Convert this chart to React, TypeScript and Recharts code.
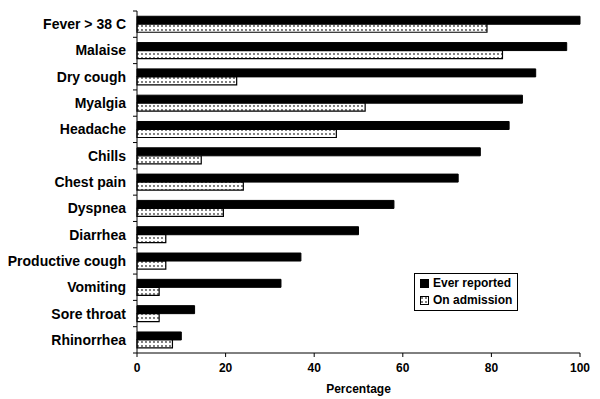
import React from 'react';
import { BarChart, Bar, XAxis, YAxis, Legend } from 'recharts';

// symptom categories, top to bottom
const symptoms = [
  'Fever > 38 C',
  'Malaise',
  'Dry cough',
  'Myalgia',
  'Headache',
  'Chills',
  'Chest pain',
  'Dyspnea',
  'Diarrhea',
  'Productive cough',
  'Vomiting',
  'Sore throat',
  'Rhinorrhea',
];

const everReported = [100, 97, 90, 87, 84, 77.5, 72.5, 58, 50, 37, 32.5, 13, 10];
const onAdmission = [79, 82.5, 22.5, 51.5, 45, 14.5, 24, 19.5, 6.5, 6.5, 5, 5, 8];

const xTicks = [0, 20, 40, 60, 80, 100];

const data = symptoms.map((symptom, i) => ({
  symptom,
  ever: everReported[i],
  admission: onAdmission[i],
}));

const FONT = '"Liberation Sans", Arial, sans-serif';
const TOP = 11;
const BOTTOM = 46;
const HEIGHT = 399;
const BAND = (HEIGHT - TOP - BOTTOM) / symptoms.length;

const YTick = (props: any) => {
  const { x, y, payload, index } = props;
  const half = BAND / 2;
  return (
    <g>
      <text
        x={x - 11}
        y={y}
        dy={5}
        textAnchor="end"
        fontFamily={FONT}
        fontWeight="bold"
        fontSize={14}
        fill="#000"
      >
        {payload.value}
      </text>
      <line x1={x - 4} x2={x} y1={y - half} y2={y - half} stroke="#000" />
      {index === symptoms.length - 1 && (
        <line x1={x - 4} x2={x} y1={y + half} y2={y + half} stroke="#000" />
      )}
    </g>
  );
};

const LegendBox = () => (
  <div
    style={{
      border: '1px solid #000',
      background: '#fff',
      width: 97,
      padding: '1px 0 1px 5px',
      fontFamily: FONT,
      fontWeight: 'bold',
      fontSize: 12,
      lineHeight: '17px',
      color: '#000',
    }}
  >
    <div style={{ display: 'flex', alignItems: 'center' }}>
      <svg width={9} height={9} style={{ marginRight: 4 }}>
        <rect x={0.5} y={0.5} width={8} height={8} fill="#000" stroke="#000" />
      </svg>
      Ever reported
    </div>
    <div style={{ display: 'flex', alignItems: 'center' }}>
      <svg width={9} height={9} style={{ marginRight: 4 }}>
        <rect x={0.5} y={0.5} width={8} height={8} fill="url(#dots)" stroke="#000" />
      </svg>
      On admission
    </div>
  </div>
);

export default function App() {
  return (
    <div style={{ width: 600, height: 399, background: '#fff' }}>
      <style>{'body{margin:0;}'}</style>
      <BarChart
        width={600}
        height={HEIGHT}
        data={data}
        layout="vertical"
        margin={{ top: TOP, right: 20, bottom: 0, left: 0 }}
        barCategoryGap="20%"
        barGap={0}
      >
        <defs>
          <pattern id="dots" width={4} height={4} patternUnits="userSpaceOnUse">
            <rect width={4} height={4} fill="#fff" />
            <circle cx={2} cy={2} r={0.9} fill="#444" />
          </pattern>
        </defs>
        <XAxis
          type="number"
          domain={[0, 100]}
          ticks={xTicks}
          height={BOTTOM}
          tickSize={4}
          tickMargin={6}
          axisLine={{ stroke: '#000' }}
          tickLine={{ stroke: '#000' }}
          tick={{ fill: '#000', fontFamily: FONT, fontWeight: 'bold', fontSize: 12 }}
          label={{
            value: 'Percentage',
            position: 'insideBottom',
            offset: 6,
            fill: '#000',
            fontFamily: FONT,
            fontWeight: 'bold',
            fontSize: 12,
          }}
        />
        <YAxis
          type="category"
          dataKey="symptom"
          width={137}
          tickSize={0}
          tickMargin={0}
          tickLine={false}
          axisLine={{ stroke: '#000' }}
          tick={<YTick />}
          interval={0}
        />
        <Legend
          layout="vertical"
          align="center"
          verticalAlign="middle"
          wrapperStyle={{ left: 414, top: 273, width: 103 }}
          content={<LegendBox />}
        />
        <Bar
          dataKey="ever"
          name="Ever reported"
          fill="#000"
          stroke="#000"
          isAnimationActive={false}
        />
        <Bar
          dataKey="admission"
          name="On admission"
          fill="url(#dots)"
          stroke="#000"
          strokeWidth={1.2}
          isAnimationActive={false}
        />
      </BarChart>
    </div>
  );
}
